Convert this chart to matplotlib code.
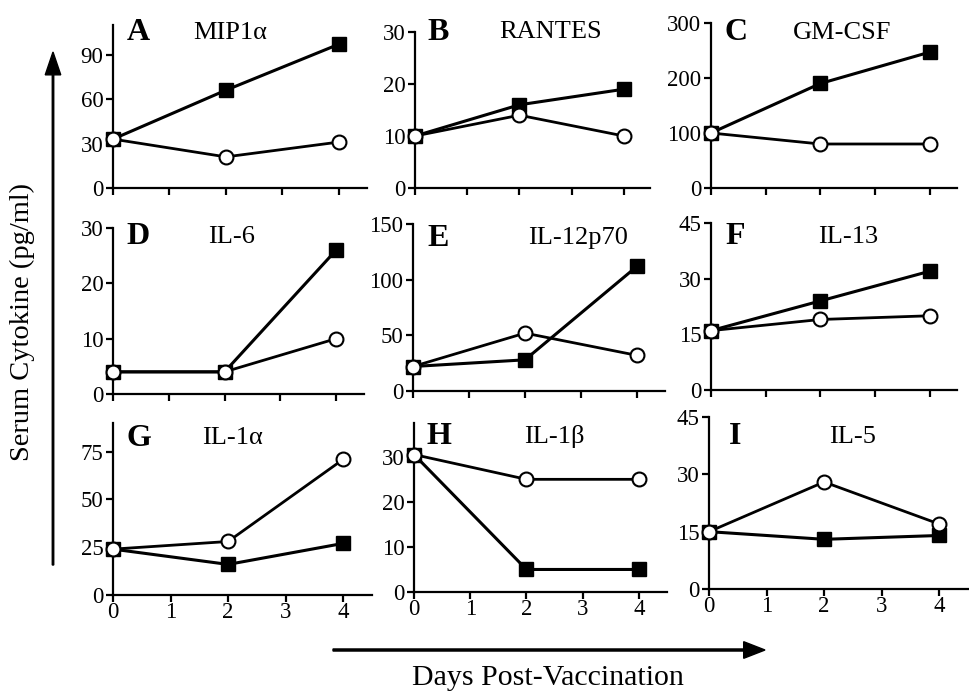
import numpy as np
import matplotlib
matplotlib.use('Agg')
import matplotlib.pyplot as plt

plt.rcParams['font.family'] = ['Liberation Serif', 'DejaVu Serif']

# days post-vaccination
days = [0, 2, 4]

# panel letters and cytokine names
letters = ['A', 'B', 'C', 'D', 'E', 'F', 'G', 'H', 'I']
names = ['MIP1\u03b1', 'RANTES', 'GM-CSF', 'IL-6', 'IL-12p70', 'IL-13',
         'IL-1\u03b1', 'IL-1\u03b2', 'IL-5']

# filled squares
filled = [
    [33, 66, 97],
    [10, 16, 19],
    [100, 190, 247],
    [4, 4, 26],
    [22, 28, 112],
    [16, 24, 32],
    [24, 16, 27],
    [30.5, 5, 5],
    [15, 13, 14],
]
# open circles
opened = [
    [33, 21, 31],
    [10, 14, 10],
    [100, 80, 80],
    [4, 4, 10],
    [22, 52, 32],
    [16, 19, 20],
    [24, 28, 71],
    [30.5, 25, 25],
    [15, 28, 17],
]

ymax = [110, 30, 300, 30, 150, 45, 90, 37.5, 45]
yticks = [
    [0, 30, 60, 90],
    [0, 10, 20, 30],
    [0, 100, 200, 300],
    [0, 10, 20, 30],
    [0, 50, 100, 150],
    [0, 15, 30, 45],
    [0, 25, 50, 75],
    [0, 10, 20, 30],
    [0, 15, 30, 45],
]

# layout in pixels: left, top, right, bottom
W, H = 969, 692
boxes = [
    (113, 25, 367, 188), (415, 32, 650, 188), (711, 23, 957, 188),
    (113, 228, 364, 394), (413, 224, 665, 391), (711, 223, 957, 390),
    (113, 423, 372, 595), (414, 423, 667, 592), (709, 417, 968, 589),
]
name_x = [2.08, 2.6, 2.4, 2.13, 2.95, 2.5, 2.07, 2.5, 2.5]
letter_y = [33, 32, 33, 237, 238, 237, 438, 437, 437]

fig = plt.figure(figsize=(W / 100, H / 100), dpi=100)

for i in range(9):
    l, t, r, b = boxes[i]
    ax = fig.add_axes([l / W, 1 - b / H, (r - l) / W, (b - t) / H])
    ax.plot(days, filled[i], color='black', lw=2.2, marker='s', ms=10,
            mfc='black', mec='black', clip_on=False, zorder=3)
    ax.plot(days, opened[i], color='black', lw=2.0, marker='o', ms=10,
            mfc='white', mec='black', mew=1.5, clip_on=False, zorder=4)
    ax.set_xlim(0, 4.5)
    ax.set_ylim(0, ymax[i])
    ax.set_yticks(yticks[i])
    ax.set_xticks([0, 1, 2, 3, 4])
    if i < 6:
        ax.set_xticklabels([])
    for s in ['top', 'right']:
        ax.spines[s].set_visible(False)
    for s in ['left', 'bottom']:
        ax.spines[s].set_linewidth(1.6)
    ax.tick_params(direction='out', length=5, width=1.6, labelsize=16.5, pad=2)
    ax.tick_params(axis='x', pad=0)
    ax.annotate(letters[i], xy=(0.45, H - letter_y[i]),
                xycoords=('data', 'figure pixels'), ha='center', va='center',
                fontsize=23, fontweight='bold')
    ax.annotate(names[i], xy=(name_x[i], H - letter_y[i]),
                xycoords=('data', 'figure pixels'), ha='center', va='center',
                fontsize=19)

# axis arrows and labels
fig.add_artist(matplotlib.patches.FancyArrow(
    53 / W, 1 - 565 / H, 0, (565 - 52) / H - 0.033, width=0.0015,
    head_width=0.016, head_length=0.033, color='black',
    transform=fig.transFigure))
fig.add_artist(matplotlib.patches.FancyArrow(
    333 / W, 1 - 650 / H, (765 - 333) / W - 0.022, 0, width=0.003,
    head_width=0.024, head_length=0.022, color='black',
    transform=fig.transFigure))
fig.text(22 / W, 1 - 322 / H, 'Serum Cytokine (pg/ml)', rotation=90,
         ha='center', va='center', fontsize=20.5)
fig.text(548 / W, 1 - 678 / H, 'Days Post-Vaccination',
         ha='center', va='center', fontsize=21.5)

fig.savefig('out.png', dpi=100)
